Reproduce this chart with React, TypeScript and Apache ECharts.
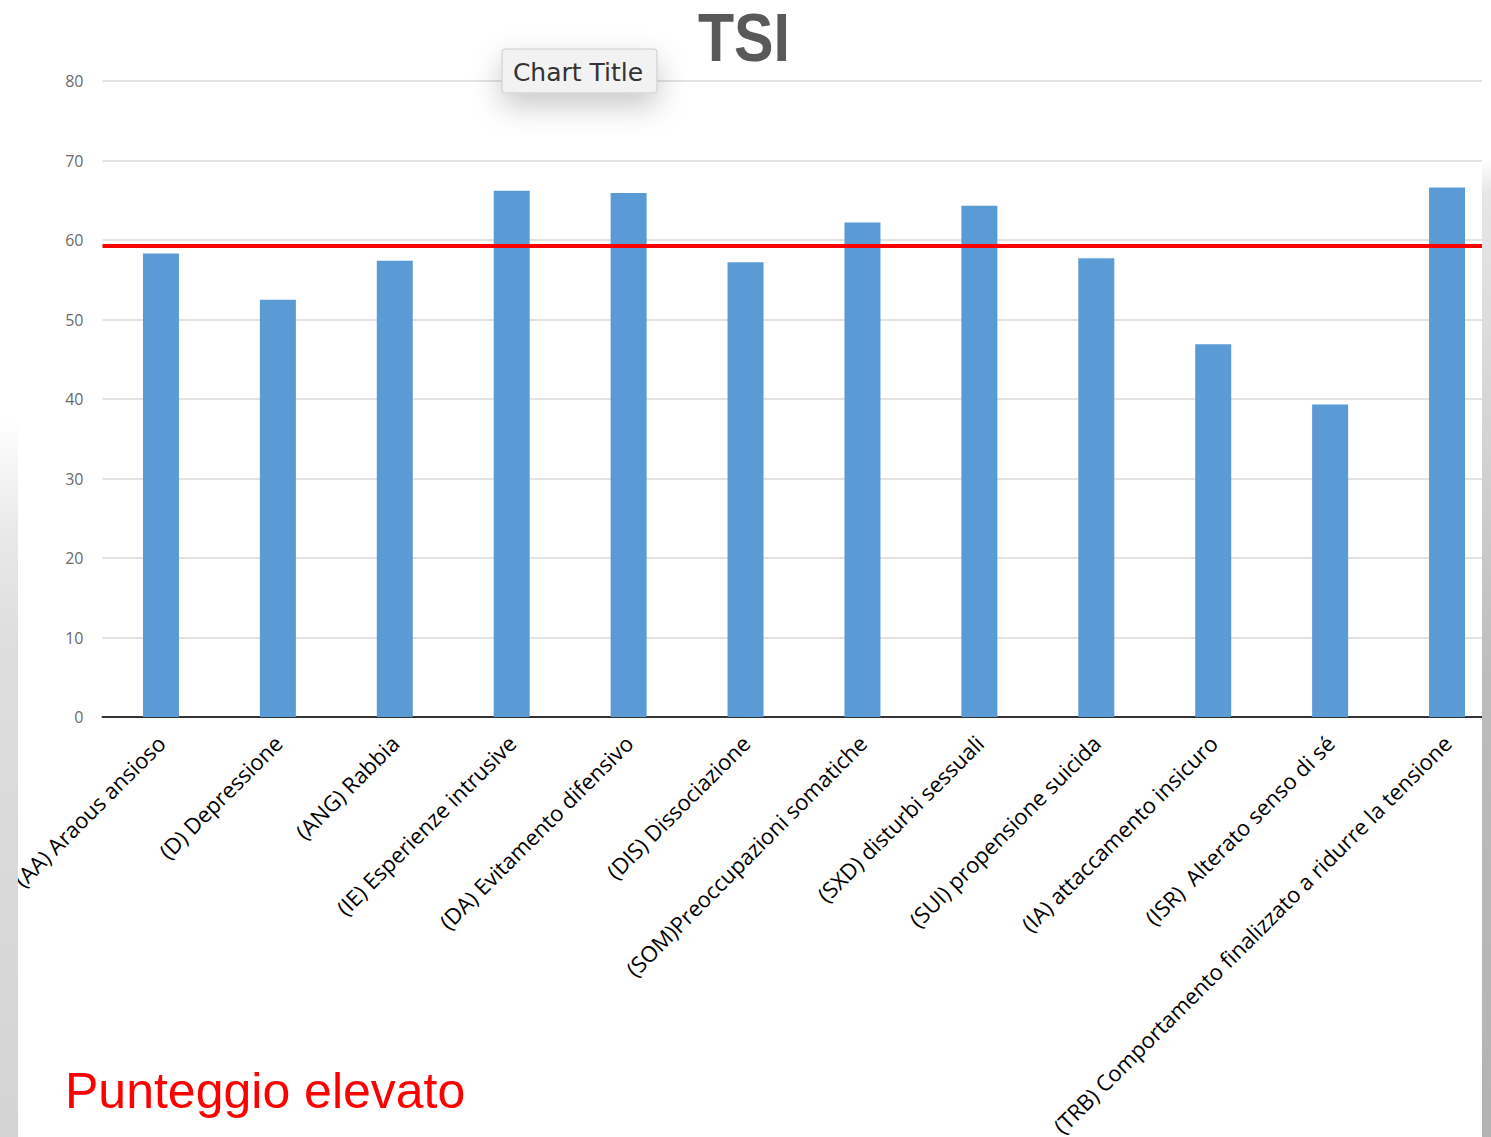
import React, { useEffect, useRef } from "react";
import * as echarts from "echarts";

// TSI scale scores
const categories: string[] = [
  "(AA) Araous ansioso",
  "(D) Depressione",
  "(ANG) Rabbia",
  "(IE) Esperienze intrusive",
  "(DA) Evitamento difensivo",
  "(DIS) Dissociazione",
  "(SOM)Preoccupazioni somatiche",
  "(SXD) disturbi sessuali",
  "(SUI) propensione suicida",
  "(IA) attaccamento insicuro",
  "(ISR)  Alterato senso di sé",
  "(TRB) Comportamento finalizzato a ridurre la tensione",
];
const scores: number[] = [58.3, 52.5, 57.4, 66.2, 65.9, 57.2, 62.2, 64.3, 57.7, 46.9, 39.3, 66.6];

// threshold for an elevated score
const cutoff = 59.3;

const yMin = 0;
const yMax = 80;
const yStep = 10;

const chartTitle = "TSI";
const placeholderTitle = "Chart Title";
const noteText = "Punteggio elevato";

export default function App() {
  const ref = useRef<HTMLDivElement>(null);

  useEffect(() => {
    if (!ref.current) return;
    const chart = echarts.init(ref.current, undefined, { renderer: "svg" });

    chart.setOption({
      animation: false,
      backgroundColor: "#ffffff",
      grid: {
        left: 102.5,
        top: 81,
        width: 1403,
        height: 636,
        containLabel: false,
        outerBoundsMode: "none",
      },
      xAxis: {
        type: "category",
        data: categories,
        axisLine: { show: true, lineStyle: { color: "#333333", width: 2 } },
        axisTick: { show: false },
        axisLabel: {
          rotate: 45,
          interval: 0,
          margin: 22,
          color: "#000000",
          fontFamily: "Open Sans",
          fontSize: 22,
        },
        splitLine: { show: false },
      },
      yAxis: {
        type: "value",
        min: yMin,
        max: yMax,
        interval: yStep,
        axisLine: { show: false },
        axisTick: { show: false },
        axisLabel: {
          margin: 19,
          color: "#6a6a6a",
          fontFamily: "Open Sans",
          fontSize: 16,
        },
        splitLine: { show: true, lineStyle: { color: "#d9d9d9", width: 1.5 } },
      },
      series: [
        {
          type: "bar",
          data: scores,
          barWidth: 36,
          itemStyle: { color: "#5b9bd5" },
          markLine: {
            silent: true,
            symbol: "none",
            label: { show: false },
            lineStyle: { color: "#ff0000", width: 4, type: "solid" },
            data: [{ yAxis: cutoff }],
          },
        },
      ],
      graphic: [
        {
          type: "rect",
          z: 100,
          shape: { x: 0, y: 0, width: 18, height: 1137 },
          style: {
            fill: {
              type: "linear",
              x: 0, y: 0, x2: 0, y2: 1,
              colorStops: [
                { offset: 0, color: "#ffffff" },
                { offset: 0.37, color: "#ffffff" },
                { offset: 0.46, color: "#eaeaea" },
                { offset: 0.56, color: "#dedede" },
                { offset: 1, color: "#d4d4d4" },
              ],
            },
          },
        },
        {
          type: "rect",
          z: 100,
          shape: { x: 1482, y: 0, width: 9, height: 1137 },
          style: {
            fill: {
              type: "linear",
              x: 0, y: 0, x2: 0, y2: 1,
              colorStops: [
                { offset: 0, color: "#ffffff" },
                { offset: 0.14, color: "#ffffff" },
                { offset: 0.17, color: "#e6e6e6" },
                { offset: 0.4, color: "#d2d2d2" },
                { offset: 0.6, color: "#bcbcbc" },
                { offset: 1, color: "#b3b3b3" },
              ],
            },
          },
        },
        {
          type: "text",
          z: 100,
          x: 744,
          y: 38,
          scaleX: 0.87,
          style: {
            text: chartTitle,
            fill: "#595959",
            font: "bold 68px 'Liberation Sans', Arial, sans-serif",
            textAlign: "center",
            textVerticalAlign: "middle",
          },
        },
        {
          type: "rect",
          z: 100,
          shape: { x: 502, y: 49, width: 155, height: 44, r: 3 },
          style: {
            fill: "#f2f2f2",
            stroke: "#c9c9c9",
            lineWidth: 1,
            shadowBlur: 30,
            shadowOffsetY: 12,
            shadowColor: "rgba(0,0,0,0.22)",
          },
        },
        {
          type: "text",
          z: 101,
          x: 578,
          y: 72,
          style: {
            text: placeholderTitle,
            fill: "#333333",
            font: "25px 'DejaVu Sans', sans-serif",
            textAlign: "center",
            textVerticalAlign: "middle",
          },
        },
        {
          type: "text",
          z: 100,
          x: 65,
          y: 1091,
          style: {
            text: noteText,
            fill: "#ff0000",
            font: "50px 'Liberation Sans', Arial, sans-serif",
            textAlign: "left",
            textVerticalAlign: "middle",
          },
        },
      ],
    });

    return () => {
      chart.dispose();
    };
  }, []);

  return (
    <div
      ref={ref}
      style={{ position: "absolute", left: 0, top: 0, width: 1491, height: 1137, overflow: "hidden" }}
    />
  );
}
